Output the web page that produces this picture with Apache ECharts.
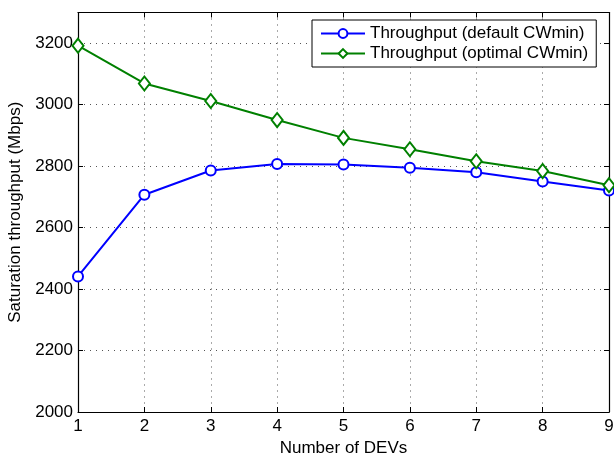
<!DOCTYPE html>
<html>
<head>
<meta charset="utf-8">
<script src="https://cdn.jsdelivr.net/npm/echarts@6/dist/echarts.min.js"></script>
<style>
  html, body { margin: 0; padding: 0; background: #fff; }
  #chart { width: 614px; height: 456px; }
</style>
</head>
<body>
<div id="chart"></div>
<script>
// number of DEVs on the x axis
var devs = [1, 2, 3, 4, 5, 6, 7, 8, 9];
// saturation throughput (Mbps)
var defaultCW = [2441, 2707, 2786, 2807, 2805, 2795, 2780, 2750, 2721];
var optimalCW = [3192, 3069, 3012, 2950, 2892, 2855, 2816, 2784, 2738];
var seriesNames = ['Throughput (default CWmin)', 'Throughput (optimal CWmin)'];

var font = 'Liberation Sans, Arial, Helvetica, sans-serif';

function pairs(ys) {
	return devs.map(function(x, i) {
		return [x, ys[i]];
	});
}

var tickStyle = { show: true, inside: true, length: 5, lineStyle: { color: '#000', width: 1 } };
var lineStyle = { show: true, lineStyle: { color: '#000', width: 1.2 } };
var gridLine = { show: true, lineStyle: { color: '#555', type: [1, 5], width: 1 } };

var chart = echarts.init(document.getElementById('chart'));
chart.setOption({
	animation: false,
	backgroundColor: '#fff',
	grid: { left: 78, right: 5, top: 12.5, bottom: 44, outerBoundsMode: 'none', containLabel: false },
	legend: {
		orient: 'vertical',
		left: 312,
		top: 20,
		padding: [5, 8, 5, 8],
		itemGap: 3,
		itemWidth: 44,
		itemHeight: 11,
		borderColor: '#000',
		borderWidth: 1,
		backgroundColor: '#fff',
		textStyle: { fontFamily: font, fontSize: 17, color: '#000' },
		data: seriesNames
	},
	xAxis: [{
		type: 'value', min: 1, max: 9, interval: 1, position: 'bottom',
		name: 'Number of DEVs', nameLocation: 'middle', nameGap: 27,
		nameTextStyle: { fontFamily: font, fontSize: 17, color: '#000' },
		axisLine: lineStyle, axisTick: tickStyle, splitLine: gridLine,
		axisLabel: { fontFamily: font, fontSize: 17, color: '#000', margin: 6 }
	}, {
		type: 'value', min: 1, max: 9, interval: 1, position: 'top',
		axisLine: lineStyle, axisTick: tickStyle, splitLine: { show: false },
		axisLabel: { show: false }
	}],
	yAxis: [{
		type: 'value', min: 2000, max: 3300, interval: 200, position: 'left',
		name: 'Saturation throughput (Mbps)', nameLocation: 'middle', nameGap: 51,
		nameTextStyle: { fontFamily: font, fontSize: 17, color: '#000' },
		axisLine: lineStyle, axisTick: tickStyle, splitLine: gridLine,
		axisLabel: {
			fontFamily: font, fontSize: 17, color: '#000', margin: 5, showMaxLabel: false,
			formatter: function(v) { return String(v); }
		}
	}, {
		type: 'value', min: 2000, max: 3300, interval: 200, position: 'right',
		axisLine: lineStyle, axisTick: tickStyle, splitLine: { show: false },
		axisLabel: { show: false }
	}],
	series: [{
		name: seriesNames[0],
		type: 'line',
		data: pairs(defaultCW),
		symbol: 'emptyCircle',
		symbolSize: 10,
		color: '#0000ff',
		lineStyle: { color: '#0000ff', width: 2 },
		itemStyle: { color: '#0000ff', borderColor: '#0000ff', borderWidth: 2 }
	}, {
		name: seriesNames[1],
		type: 'line',
		data: pairs(optimalCW),
		symbol: 'emptyDiamond',
		symbolSize: [11, 14],
		color: '#008000',
		lineStyle: { color: '#008000', width: 2 },
		itemStyle: { color: '#008000', borderColor: '#008000', borderWidth: 2 }
	}]
});
</script>
</body>
</html>
